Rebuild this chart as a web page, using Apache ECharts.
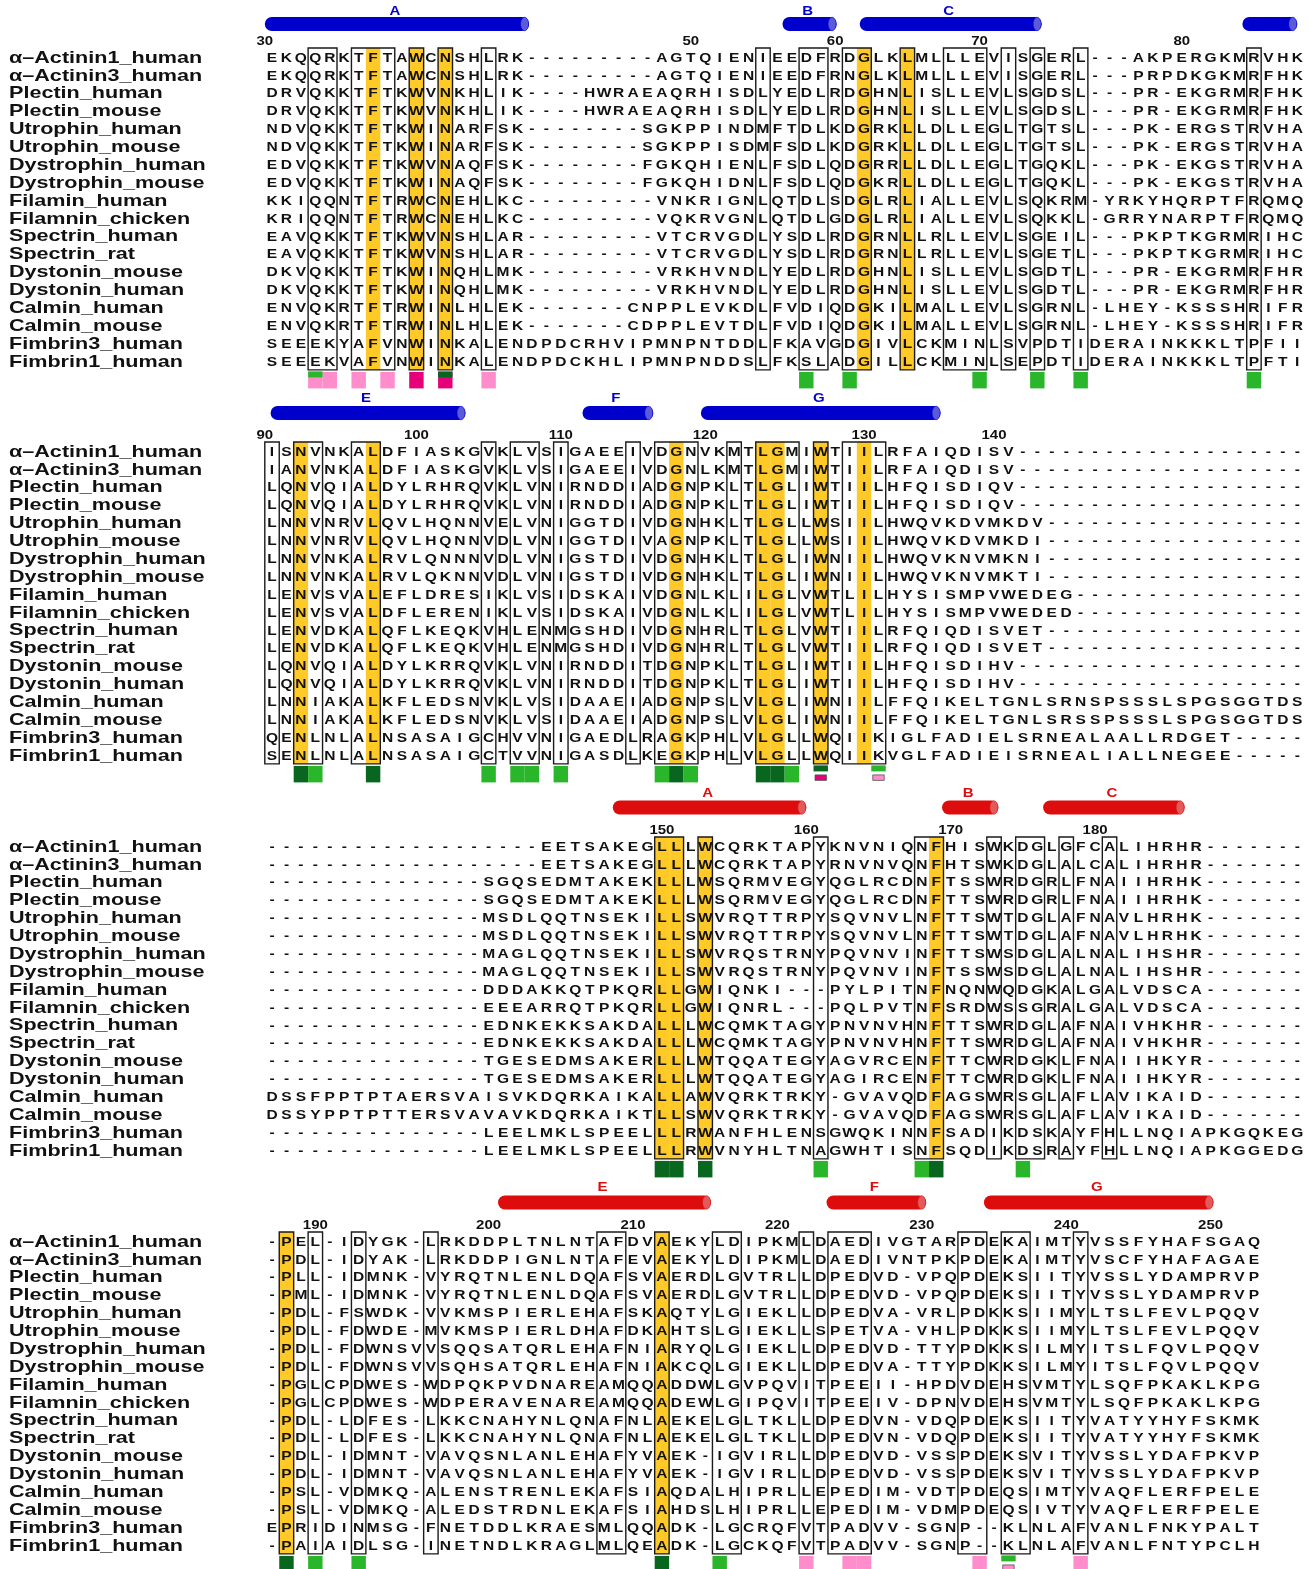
<!DOCTYPE html>
<html>
<head>
<meta charset="utf-8">
<title>Alignment</title>
<script src="https://cdn.jsdelivr.net/npm/echarts@6.0.0/dist/echarts.min.js"></script>
<style>
html, body { margin: 0; padding: 0; background: #fff; }
#chart { width: 1314px; height: 1569px; }
</style>
</head>
<body>
<div id="chart"></div>
<script>
// sequence names, one per row (same order in every block)
const names = [
    'α–Actinin1_human', 'α–Actinin3_human', 'Plectin_human', 'Plectin_mouse',
    'Utrophin_human', 'Utrophin_mouse', 'Dystrophin_human', 'Dystrophin_mouse',
    'Filamin_human', 'Filamnin_chicken', 'Spectrin_human', 'Spectrin_rat',
    'Dystonin_mouse', 'Dystonin_human', 'Calmin_human', 'Calmin_mouse',
    'Fimbrin3_human', 'Fimbrin1_human'
]

// aligned sequences, block by block
const block1 = [
    'EKQQRKTFTAWCNSHLRK---------AGTQIENIEEDFRDGLKLMLLLEVISGERL---AKPERGKMRVHK',
    'EKQQRKTFTAWCNSHLRK---------AGTQIENIEEDFRNGLKLMLLLEVISGERL---PRPDKGKMRFHK',
    'DRVQKKTFTKWVNKHLIK----HWRAEAQRHISDLYEDLRDGHNLISLLEVLSGDSL---PR-EKGRMRFHK',
    'DRVQKKTFTKWVNKHLIK----HWRAEAQRHISDLYEDLRDGHNLISLLEVLSGDSL---PR-EKGRMRFHK',
    'NDVQKKTFTKWINARFSK--------SGKPPINDMFTDLKDGRKLLDLLEGLTGTSL---PK-ERGSTRVHA',
    'NDVQKKTFTKWINARFSK--------SGKPPISDMFSDLKDGRKLLDLLEGLTGTSL---PK-ERGSTRVHA',
    'EDVQKKTFTKWVNAQFSK--------FGKQHIENLFSDLQDGRRLLDLLEGLTGQKL---PK-EKGSTRVHA',
    'EDVQKKTFTKWINAQFSK--------FGKQHIDNLFSDLQDGKRLLDLLEGLTGQKL---PK-EKGSTRVHA',
    'KKIQQNTFTRWCNEHLKC---------VNKRIGNLQTDLSDGLRLIALLEVLSQKRM-YRKYHQRPTFRQMQ',
    'KRIQQNTFTRWCNEHLKC---------VQKRVGNLQTDLGDGLRLIALLEVLSQKKL-GRRYNARPTFRQMQ',
    'EAVQKKTFTKWVNSHLAR---------VTCRVGDLYSDLRDGRNLLRLLEVLSGEIL---PKPTKGRMRIHC',
    'EAVQKKTFTKWVNSHLAR---------VTCRVGDLYSDLRDGRNLLRLLEVLSGETL---PKPTKGRMRIHC',
    'DKVQKKTFTKWINQHLMK---------VRKHVNDLYEDLRDGHNLISLLEVLSGDTL---PR-EKGRMRFHR',
    'DKVQKKTFTKWINQHLMK---------VRKHVNDLYEDLRDGHNLISLLEVLSGDTL---PR-EKGRMRFHR',
    'ENVQKRTFTRWINLHLEK-------CNPPLEVKDLFVDIQDGKILMALLEVLSGRNL-LHEY-KSSSHRIFR',
    'ENVQKRTFTRWINLHLEK-------CDPPLEVTDLFVDIQDGKILMALLEVLSGRNL-LHEY-KSSSHRIFR',
    'SEEEKYAFVNWINKALENDPDCRHVIPMNPNTDDLFKAVGDGIVLCKMINLSVPDTIDERAINKKKLTPFII',
    'SEEEKVAFVNWINKALENDPDCKHLIPMNPNDDSLFKSLADGILLCKMINLSEPDTIDERAINKKKLTPFTI'
]
const block2 = [
    'ISNVNKALDFIASKGVKLVSIGAEEIVDGNVKMTLGMIWTIILRFAIQDISV--------------------',
    'IANVNKALDFIASKGVKLVSIGAEEIVDGNLKMTLGMIWTIILRFAIQDISV--------------------',
    'LQNVQIALDYLRHRQVKLVNIRNDDIADGNPKLTLGLIWTIILHFQISDIQV--------------------',
    'LQNVQIALDYLRHRQVKLVNIRNDDIADGNPKLTLGLIWTIILHFQISDIQV--------------------',
    'LNNVNRVLQVLHQNNVELVNIGGTDIVDGNHKLTLGLLWSIILHWQVKDVMKDV------------------',
    'LNNVNRVLQVLHQNNVDLVNIGGTDIVAGNPKLTLGLLWSIILHWQVKDVMKDI------------------',
    'LNNVNKALRVLQNNNVDLVNIGSTDIVDGNHKLTLGLIWNIILHWQVKNVMKNI------------------',
    'LNNVNKALRVLQKNNVDLVNIGSTDIVDGNHKLTLGLIWNIILHWQVKNVMKTI------------------',
    'LENVSVALEFLDRESIKLVSIDSKAIVDGNLKLILGLVWTLILHYSISMPVWEDEG----------------',
    'LENVSVALDFLERENIKLVSIDSKAIVDGNLKLILGLVWTLILHYSISMPVWEDED----------------',
    'LENVDKALQFLKEQKVHLENMGSHDIVDGNHRLTLGLVWTIILRFQIQDISVET------------------',
    'LENVDKALQFLKEQKVHLENMGSHDIVDGNHRLTLGLVWTIILRFQIQDISVET------------------',
    'LQNVQIALDYLKRRQVKLVNIRNDDITDGNPKLTLGLIWTIILHFQISDIHV--------------------',
    'LQNVQIALDYLKRRQVKLVNIRNDDITDGNPKLTLGLIWTIILHFQISDIHV--------------------',
    'LNNIAKALKFLEDSNVKLVSIDAAEIADGNPSLVLGLIWNIILFFQIKELTGNLSRNSPSSSLSPGSGGTDS',
    'LNNIAKALKFLEDSNVKLVSIDAAEIADGNPSLVLGLIWNIILFFQIKELTGNLSRSSPSSSLSPGSGGTDS',
    'QENLNLALNSASAIGCHVVNIGAEDLRAGKPHLVLGLLWQIIKIGLFADIELSRNEALAALLRDGET-----',
    'SENLNLALNSASAIGCTVVNIGASDLKEGKPHLVLGLLWQIIKVGLFADIEISRNEALIALLNEGEE-----'
]
const block3 = [
    '-------------------EETSAKEGLLLWCQRKTAPYKNVNIQNFHISWKDGLGFCALIHRHR-------',
    '-------------------EETSAKEGLLLWCQRKTAPYRNVNVQNFHTSWKDGLALCALIHRHR-------',
    '---------------SGQSEDMTAKEKLLLWSQRMVEGYQGLRCDNFTSSWRDGRLFNAIIHRHK-------',
    '---------------SGQSEDMTAKEKLLLWSQRMVEGYQGLRCDNFTTSWRDGRLFNAIIHRHK-------',
    '---------------MSDLQQTNSEKILLSWVRQTTRPYSQVNVLNFTTSWTDGLAFNAVLHRHK-------',
    '---------------MSDLQQTNSEKILLSWVRQTTRPYSQVNVLNFTTSWTDGLAFNAVLHRHK-------',
    '---------------MAGLQQTNSEKILLSWVRQSTRNYPQVNVINFTTSWSDGLALNALIHSHR-------',
    '---------------MAGLQQTNSEKILLSWVRQSTRNYPQVNVINFTSSWSDGLALNALIHSHR-------',
    '---------------DDDAKKQTPKQRLLGWIQNKI---PYLPITNFNQNWQDGKALGALVDSCA-------',
    '---------------EEEARRQTPKQRLLGWIQNRL---PQLPVTNFSRDWSSGRALGALVDSCA-------',
    '---------------EDNKEKKSAKDALLLWCQMKTAGYPNVNVHNFTTSWRDGLAFNAIVHKHR-------',
    '---------------EDNKEKKSAKDALLLWCQMKTAGYPNVNVHNFTTSWRDGLAFNAIVHKHR-------',
    '---------------TGESEDMSAKERLLLWTQQATEGYAGVRCENFTTCWRDGKLFNAIIHKYR-------',
    '---------------TGESEDMSAKERLLLWTQQATEGYAGIRCENFTTCWRDGKLFNAIIHKYR-------',
    'DSSFPPTPTAERSVAISVKDQRKAIKALLAWVQRKTRKY-GVAVQDFAGSWRSGLAFLAVIKAID-------',
    'DSSYPPTPTTERSVAVAVKDQRKAIKTLLSWVQRKTRKY-GVAVQDFAGSWRSGLAFLAVIKAID-------',
    '---------------LEELMKLSPEELLLRWANFHLENSGWQKINNFSADIKDSKAYFHLLNQIAPKGQKEG',
    '---------------LEELMKLSPEELLLRWVNYHLTNAGWHTISNFSQDIKDSRAYFHLLNQIAPKGGEDG'
]
const block4 = [
    '-PEL-IDYGK-LRKDDPLTNLNTAFDVAEKYLDIPKMLDAEDIVGTARPDEKAIMTYVSSFYHAFSGAQ',
    '-PDL-IDYAK-LRKDDPIGNLNTAFEVAEKYLDIPKMLDAEDIVNTPKPDEKAIMTYVSCFYHAFAGAE',
    '-PLL-IDMNK-VYRQTNLENLDQAFSVAERDLGVTRLLDPEDVD-VPQPDEKSIITYVSSLYDAMPRVP',
    '-PML-IDMNK-VYRQTNLENLDQAFSVAERDLGVTRLLDPEDVD-VPQPDEKSIITYVSSLYDAMPRVP',
    '-PDL-FSWDK-VVKMSPIERLEHAFSKAQTYLGIEKLLDPEDVA-VRLPDKKSIIMYLTSLFEVLPQQV',
    '-PDL-FDWDE-MVKMSPIERLDHAFDKAHTSLGIEKLLSPETVA-VHLPDKKSIIMYLTSLFEVLPQQV',
    '-PDL-FDWNSVVSQQSATQRLEHAFNIARYQLGIEKLLDPEDVD-TTYPDKKSILMYITSLFQVLPQQV',
    '-PDL-FDWNSVVSQHSATQRLEHAFNIAKCQLGIEKLLDPEDVA-TTYPDKKSILMYITSLFQVLPQQV',
    '-PGLCPDWES-WDPQKPVDNAREAMQQADDWLGVPQVITPEEII-HPDVDEHSVMTYLSQFPKAKLKPG',
    '-PGLCPDWES-WDPERAVENAREAMQQADEWLGIPQVITPEEIV-DPNVDEHSVMTYLSQFPKAKLKPG',
    '-PDL-LDFES-LKKCNAHYNLQNAFNLAEKELGLTKLLDPEDVN-VDQPDEKSIITYVATYYHYFSKMK',
    '-PDL-LDFES-LKKCNAHYNLQNAFNLAEKELGLTKLLDPEDVN-VDQPDEKSIITYVATYYHYFSKMK',
    '-PDL-IDMNT-VAVQSNLANLEHAFYVAEK-IGVIRLLDPEDVD-VSSPDEKSVITYVSSLYDAFPKVP',
    '-PDL-IDMNT-VAVQSNLANLEHAFYVAEK-IGVIRLLDPEDVD-VSSPDEKSVITYVSSLYDAFPKVP',
    '-PSL-VDMKQ-ALENSTRENLEKAFSIAQDALHIPRLLEPEDIM-VDTPDEQSIMTYVAQFLERFPELE',
    '-PSL-VDMKQ-ALEDSTRDNLEKAFSIAHDSLHIPRLLEPEDIM-VDMPDEQSIVTYVAQFLERFPELE',
    'EPRIDINMSG-FNETDDLKRAESMLQQADK-LGCRQFVTPADVV-SGNP--KLNLAFVANLFNKYPALT',
    '-PAIAIDLSG-INETNDLKRAGLMLQEADK-LGCKQFVTPADVV-SGNP--KLNLAFVANLFNTYPCLH'
]

// residue numbers above each block: [column, text]
const numbers1 = [[-0.5, '30'], [29, '50'], [39, '60'], [49, '70'], [63, '80']]
const numbers2 = [[-0.5, '90'], [10, '100'], [20, '110'], [30, '120'], [41, '130'], [50, '140']]
const numbers3 = [[27, '150'], [37, '160'], [47, '170'], [57, '180']]
const numbers4 = [[3, '190'], [15, '200'], [25, '210'], [35, '220'], [45, '230'], [55, '240'], [65, '250']]

// helices: [name, from column, to column]
const helices1 = [['A', -0.5, 17.8], ['B', 35.35, 39.1], ['C', 40.7, 53.3], ['', 67.2, 71.0]]
const helices2 = [['E', -0.1, 13.4], ['F', 21.5, 26.4], ['G', 29.7, 46.3]]
const helices3 = [['A', 23.6, 37.0], ['B', 46.4, 50.3], ['C', 53.4, 63.2]]
const helices4 = [['E', 15.65, 30.4], ['F', 38.4, 45.3], ['G', 49.3, 65.2]]

// strictly conserved columns (yellow)
const yellow1 = [7, 10, 12, 41, 44]
const yellow2 = [2, 7, 28, 34, 35, 38, 41]
const yellow3 = [27, 28, 30, 46]
const yellow4 = [1, 27]

// framed column groups: [first column, last column]
const boxes1 = [[3, 4], [6, 8], [10, 10], [12, 12], [15, 15], [34, 34], [37, 38], [40, 41], [44, 44],
    [47, 49], [51, 51], [53, 53], [56, 56], [68, 68]]
const boxes2 = [[0, 0], [2, 3], [6, 7], [15, 15], [17, 18], [20, 20], [25, 25], [27, 29], [32, 32],
    [34, 36], [38, 38], [40, 42]]
const boxes3 = [[27, 28], [30, 30], [38, 38], [45, 46], [50, 50], [52, 53], [55, 55], [58, 58]]
const boxes4 = [[1, 1], [3, 3], [6, 6], [11, 11], [23, 24], [27, 27], [31, 32], [37, 37], [39, 41],
    [48, 49], [51, 52], [56, 56]]

// site marks under each block: [column, colour, kind]
const marks1 = [[3, 'pink', 'full'], [4, 'pink', 'full'], [6, 'pink', 'full'], [8, 'pink', 'full'],
    [10, 'magenta', 'full'], [12, 'magenta', 'full'], [15, 'pink', 'full'], [37, 'green', 'full'],
    [40, 'green', 'full'], [49, 'green', 'full'], [53, 'green', 'full'], [56, 'green', 'full'],
    [68, 'green', 'full'], [3, 'green', 'top'], [12, 'dark', 'top']]
const marks2 = [[2, 'dark', 'full'], [3, 'green', 'full'], [7, 'dark', 'full'], [15, 'green', 'full'],
    [17, 'green', 'full'], [18, 'green', 'full'], [20, 'green', 'full'], [27, 'green', 'full'],
    [28, 'dark', 'full'], [29, 'green', 'full'], [34, 'dark', 'full'], [35, 'dark', 'full'],
    [36, 'green', 'full'], [38, 'dark', 'top'], [38, 'magenta', 'small'], [42, 'green', 'top'],
    [42, 'pink', 'small']]
const marks3 = [[27, 'dark', 'full'], [28, 'dark', 'full'], [30, 'dark', 'full'], [38, 'green', 'full'],
    [45, 'green', 'full'], [46, 'dark', 'full'], [52, 'green', 'full']]
const marks4 = [[1, 'dark', 'full'], [3, 'green', 'full'], [6, 'green', 'full'], [27, 'dark', 'full'],
    [31, 'green', 'full'], [37, 'pink', 'full'], [40, 'pink', 'full'], [41, 'pink', 'full'],
    [49, 'pink', 'full'], [56, 'pink', 'full'], [51, 'green', 'top'], [51, 'pink', 'small']]

// layout
const COL_W = 14.44
const ROW_H = 17.88
const LEFT = 264.8
const ROW1 = [57, 451, 846, 1241]
const HELIX_DY = [-33, -38, -38.5, -38.5]
const HLABEL_DY = [-45, -52, -52, -53]
const NUM_DY = -15.5

const SEQ_FONT = 'bold 13.5px "Liberation Sans", Arial, sans-serif'
const NAME_FONT = 'bold 17px "Liberation Sans", Arial, sans-serif'
const NUM_FONT = 'bold 12.5px "Liberation Sans", Arial, sans-serif'
const YELLOW = '#ffc928'
const markColors = { green: '#2ab62a', dark: '#08661e', pink: '#ff8ccb', magenta: '#e6007a' }
const helixStyles = [
    { body: '#0000cc', cap: '#5b5bd9', text: '#0000cc' },
    { body: '#0000cc', cap: '#5b5bd9', text: '#0000cc' },
    { body: '#dd0d0d', cap: '#e25a5a', text: '#dd0d0d' },
    { body: '#dd0d0d', cap: '#e25a5a', text: '#dd0d0d' }
]

const blocks = [
    { seqs: block1, numbers: numbers1, helices: helices1, yellow: yellow1, boxes: boxes1, marks: marks1 },
    { seqs: block2, numbers: numbers2, helices: helices2, yellow: yellow2, boxes: boxes2, marks: marks2 },
    { seqs: block3, numbers: numbers3, helices: helices3, yellow: yellow3, boxes: boxes3, marks: marks3 },
    { seqs: block4, numbers: numbers4, helices: helices4, yellow: yellow4, boxes: boxes4, marks: marks4 }
]

const nrow = names.length
let series = []

blocks.forEach(function (b, i) {
    let base = {
        type: 'custom', coordinateSystem: 'cartesian2d', xAxisIndex: i, yAxisIndex: i,
        silent: true, animation: false, clip: false
    }

    // yellow columns
    series.push(Object.assign({}, base, {
        z: 1,
        data: b.yellow.map(c => [c, 0]),
        renderItem: function (params, api) {
            let c = api.value(0)
            let a = api.coord([c - 0.5, -0.5])
            let e = api.coord([c + 0.5, nrow - 0.5])
            return { type: 'rect', shape: { x: a[0], y: a[1], width: e[0] - a[0], height: e[1] - a[1] },
                style: { fill: YELLOW } }
        }
    }))

    // marks under the block
    series.push(Object.assign({}, base, {
        z: 2,
        data: b.marks.map((m, k) => [m[0], k]),
        renderItem: function (params, api) {
            let m = b.marks[api.value(1)]
            let a = api.coord([m[0] - 0.5, nrow - 0.5])
            let e = api.coord([m[0] + 0.5, nrow - 0.5])
            let y0 = a[1] + 2, h = 16.5, x0 = a[0], w = e[0] - a[0]
            let style = { fill: markColors[m[1]] }
            if (m[2] === 'top') { y0 = a[1] + 1.5; h = 6 }
            if (m[2] === 'small') {
                y0 = a[1] + 11; h = 5.5; x0 += 1.5; w -= 3
                style.stroke = '#555'; style.lineWidth = 0.8
            }
            return { type: 'rect', shape: { x: x0, y: y0, width: w, height: h }, style: style }
        }
    }))

    // residues
    let cells = []
    b.seqs.forEach((s, r) => { for (let c = 0; c < s.length; c++) cells.push([c, r]) })
    series.push(Object.assign({}, base, {
        z: 3,
        data: cells,
        renderItem: function (params, api) {
            let c = api.value(0), r = api.value(1)
            let p = api.coord([c, r])
            return { type: 'text', x: p[0], y: p[1] + 1, scaleX: 1.15,
                style: { text: b.seqs[r][c], font: SEQ_FONT, fill: '#111', align: 'center', verticalAlign: 'middle' } }
        }
    }))

    // frames
    series.push(Object.assign({}, base, {
        z: 4,
        data: b.boxes,
        renderItem: function (params, api) {
            let a = api.coord([api.value(0) - 0.5, -0.5])
            let e = api.coord([api.value(1) + 0.5, nrow - 0.5])
            return { type: 'rect', shape: { x: a[0], y: a[1], width: e[0] - a[0], height: e[1] - a[1] },
                style: { fill: 'none', stroke: '#1a1a1a', lineWidth: 1.4 } }
        }
    }))

    // sequence names
    series.push(Object.assign({}, base, {
        z: 5,
        data: names.map((n, r) => [0, r]),
        renderItem: function (params, api) {
            let r = api.value(1)
            let p = api.coord([0, r])
            return { type: 'text', x: 9, y: p[1] + 1, scaleX: 1.27,
                style: { text: names[r], font: NAME_FONT, fill: '#111', align: 'left', verticalAlign: 'middle' } }
        }
    }))

    // residue numbering
    series.push(Object.assign({}, base, {
        z: 5,
        data: b.numbers.map(n => [n[0], 0]),
        renderItem: function (params, api) {
            let p = api.coord([api.value(0), 0])
            return { type: 'text', x: p[0], y: p[1] + NUM_DY, scaleX: 1.2,
                style: { text: b.numbers[params.dataIndex][1], font: NUM_FONT, fill: '#111',
                    align: 'center', verticalAlign: 'middle' } }
        }
    }))

    // helices
    series.push(Object.assign({}, base, {
        z: 5,
        data: b.helices.map(h => [h[1], h[2]]),
        renderItem: function (params, api) {
            let hs = helixStyles[i]
            let x0 = api.coord([api.value(0), 0])[0]
            let x1 = api.coord([api.value(1), 0])[0]
            let row1 = api.coord([0, 0])[1]
            let yc = row1 + HELIX_DY[i]
            let children = [
                { type: 'rect', shape: { x: x0, y: yc - 7, width: x1 - x0, height: 14, r: 7 },
                    style: { fill: hs.body } },
                { type: 'ellipse', shape: { cx: x1 - 4.5, cy: yc, rx: 4, ry: 6.7 },
                    style: { fill: hs.cap, stroke: hs.body, lineWidth: 0.6 } }
            ]
            let label = b.helices[params.dataIndex][0]
            if (label) {
                children.push({ type: 'text', x: (x0 + x1 - 4) / 2, y: row1 + HLABEL_DY[i], scaleX: 1.2,
                    style: { text: label, font: NUM_FONT, fill: hs.text, align: 'center', verticalAlign: 'middle' } })
            }
            return { type: 'group', children: children }
        }
    }))
})

let chart = echarts.init(document.getElementById('chart'))
let option = {
    backgroundColor: '#fff',
    animation: false,
    grid: blocks.map((b, i) => ({
        left: LEFT, top: ROW1[i] - ROW_H / 2,
        width: b.seqs[0].length * COL_W, height: nrow * ROW_H
    })),
    xAxis: blocks.map((b, i) => ({
        type: 'value', gridIndex: i, min: -0.5, max: b.seqs[0].length - 0.5, show: false
    })),
    yAxis: blocks.map((b, i) => ({
        type: 'value', gridIndex: i, min: -0.5, max: nrow - 0.5, inverse: true, show: false
    })),
    series: series
}
chart.setOption(option)
</script>
</body>
</html>
